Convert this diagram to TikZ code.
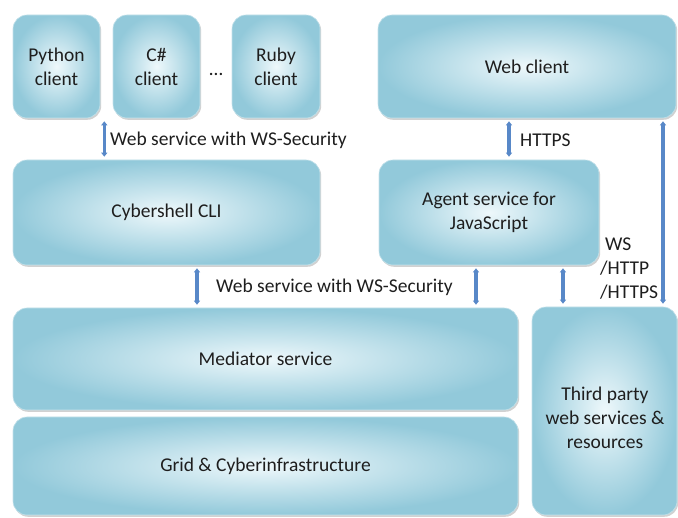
\documentclass[tikz,border=0pt]{standalone}
\usepackage{fontspec}
\setmainfont{Carlito}
\usetikzlibrary{shadows,arrows.meta}
\definecolor{boxin}{RGB}{238,248,251}
\definecolor{boxout}{RGB}{146,201,218}
\definecolor{boxedge}{RGB}{195,225,234}
\definecolor{arrblue}{RGB}{88,136,200}
\definecolor{txt}{RGB}{30,30,30}
\newcommand{\fsz}{\fontsize{19.5}{24}\selectfont}
\tikzset{
  box/.style={rounded corners=14pt, draw=boxedge, line width=0.6pt, shade,
    inner color=boxin, outer color=boxout,
    drop shadow={shadow xshift=1.2pt, shadow yshift=-1.8pt, opacity=0.3, fill=black!60},
    align=center, font=\fsz, text=txt, inner sep=0pt},
  lbl/.style={font=\fsz, text=txt, inner sep=0pt, align=left},
  arr/.style={draw=arrblue, line width=3.6pt,
    {Triangle[length=4pt,width=6pt]}-{Triangle[length=4pt,width=6pt]},
    shorten <=3pt, shorten >=3pt}
}
\begin{document}
\begin{tikzpicture}[x=1pt,y=-1pt]
\useasboundingbox (0,0) rectangle (678,518);
% top row
\node[box, minimum width=87pt, minimum height=103pt] (py) at (56.5,66.5) {Python\\client};
\node[box, minimum width=87pt, minimum height=103pt] (cs) at (156.5,66.5) {C\#\\client};
\node[font=\fsz, text=txt, inner sep=0pt] (dots) at (216,74) {\dots};
\node[box, minimum width=88pt, minimum height=103pt] (rb) at (276,66.5) {Ruby\\client};
\node[box, minimum width=298pt, minimum height=103pt] (web) at (527,66.5) {Web client};
% middle row
\node[box, minimum width=307pt, minimum height=105pt] (cli) at (166.5,212.5) {Cybershell CLI};
\node[box, minimum width=220pt, minimum height=105pt] (agent) at (489,212.5) {Agent service for\\JavaScript};
% bottom
\node[box, minimum width=505pt, minimum height=102pt] (med) at (265.5,359) {Mediator service};
\node[box, minimum width=505pt, minimum height=98pt] (grid) at (265.5,466) {Grid \& Cyberinfrastructure};
\node[box, minimum width=145pt, minimum height=208pt] (tp) at (604.5,411) {};
\node[lbl, align=center] (tptext) at (605,418) {Third party\\web services \&\\resources};
% arrows
\draw[arr] ([xshift=4pt]py.south east) -- ([xshift=4pt]py.south east |- cli.north);
\draw[arr] ([xshift=30.5pt]cli.south) -- ([xshift=30.5pt]cli.south |- med.north);
\draw[arr] ([xshift=-13pt]agent.south) -- ([xshift=-13pt]agent.south |- med.north);
\draw[arr] ([xshift=74pt]agent.south) -- ([xshift=74pt]agent.south |- tp.north);
\draw[arr] ([xshift=-18pt]web.south) -- ([xshift=-18pt]web.south |- agent.north);
\draw[arr] ([xshift=136pt]web.south) -- ([xshift=136pt]web.south |- tp.north);
% labels
\node[lbl, anchor=west] (l1) at (110,140) {Web service with WS-Security};
\node[lbl, anchor=west] (l2) at (216,287) {Web service with WS-Security};
\node[lbl, anchor=west] (l3) at (520,140) {HTTPS};
\node[lbl, anchor=west] (l4) at (600,269) {\hspace*{5pt}WS\\/HTTP\\/HTTPS};
\end{tikzpicture}
\end{document}
